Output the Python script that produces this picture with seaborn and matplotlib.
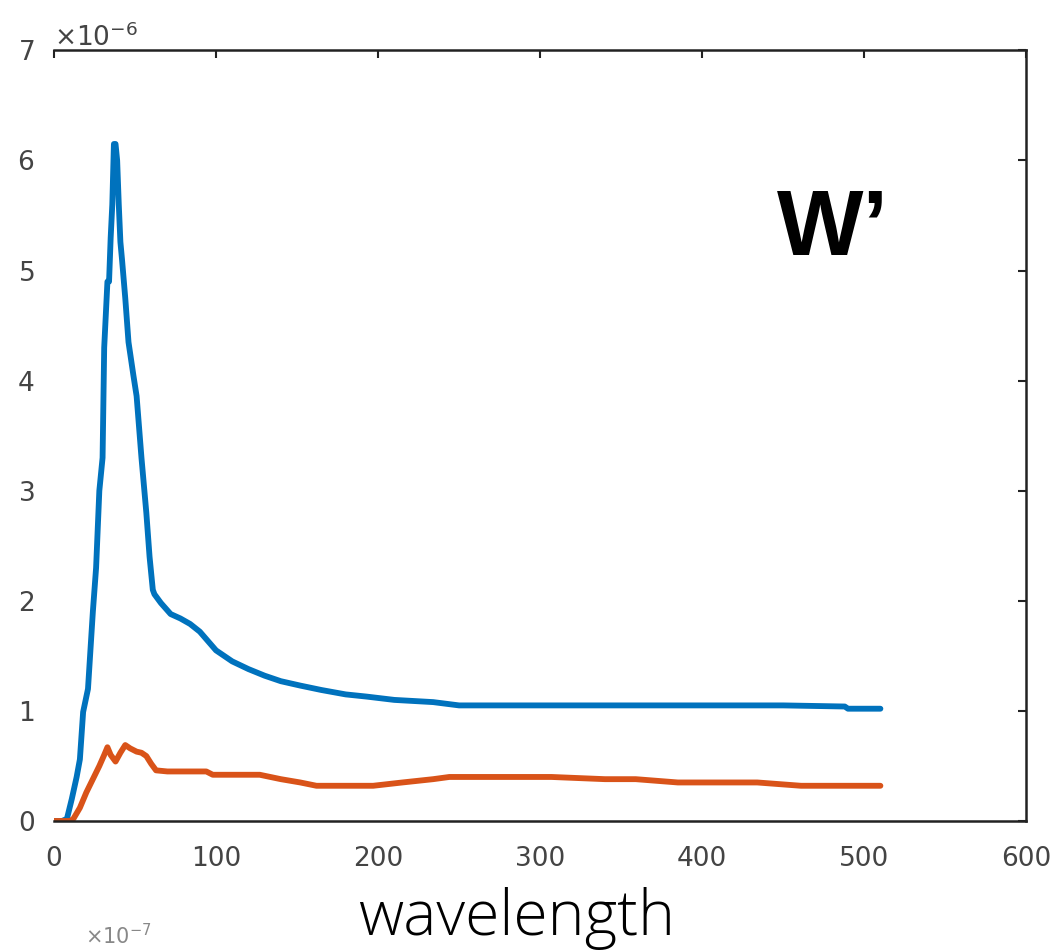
import numpy as np
import pandas as pd
import matplotlib
matplotlib.use("Agg")
import matplotlib.pyplot as plt
import seaborn as sns
from matplotlib.ticker import ScalarFormatter

# --------------------------------------------
# Data (y in units of 1e-6)
# --------------------------------------------
blue_x = [0, 5, 8, 11, 14, 16, 18, 21, 24, 26, 28, 30, 31, 33, 34, 35, 36, 37,
          38, 39, 40, 41, 42, 44, 46, 49, 51, 54, 57, 59, 61, 62, 66, 72, 78,
          84, 90, 100, 110, 120, 130, 140, 152, 165, 180, 193, 210, 234, 250,
          300, 350, 400, 450, 488, 490, 510]
blue_y = [0, 0, 0.02, 0.2, 0.4, 0.56, 0.99, 1.2, 1.9, 2.3, 3.0, 3.3, 4.3, 4.9,
          4.9, 5.3, 5.6, 6.15, 6.15, 6.0, 5.6, 5.26, 5.1, 4.75, 4.35, 4.05,
          3.86, 3.3, 2.8, 2.4, 2.1, 2.06, 1.98, 1.88, 1.84, 1.79, 1.72, 1.55,
          1.45, 1.38, 1.32, 1.27, 1.23, 1.19, 1.15, 1.13, 1.10, 1.08, 1.05,
          1.05, 1.05, 1.05, 1.05, 1.04, 1.02, 1.02]

orange_x = [0, 10, 12, 16, 20, 24, 28, 31, 33, 35, 38, 41, 44, 47, 51, 54, 57,
            60, 63, 70, 80, 94, 98, 110, 127, 140, 152, 162, 180, 197, 215,
            234, 244, 275, 307, 340, 359, 385, 434, 461, 510]
orange_y = [0, 0, 0.02, 0.12, 0.26, 0.38, 0.5, 0.6, 0.67, 0.6, 0.54, 0.62,
            0.69, 0.66, 0.63, 0.62, 0.59, 0.52, 0.46, 0.45, 0.45, 0.45, 0.42,
            0.42, 0.42, 0.38, 0.35, 0.32, 0.32, 0.32, 0.35, 0.38, 0.40, 0.40,
            0.40, 0.38, 0.38, 0.35, 0.35, 0.32, 0.32]

x_ticks = [0, 100, 200, 300, 400, 500, 600]
y_ticks = [0, 1, 2, 3, 4, 5, 6, 7]
unit = 1e-6

blue_df = pd.DataFrame({"x": blue_x, "y": np.array(blue_y) * unit})
orange_df = pd.DataFrame({"x": orange_x, "y": np.array(orange_y) * unit})

# --------------------------------------------
# Plot
# --------------------------------------------
sns.set_style("white")
plt.rcParams["font.family"] = ["DejaVu Sans"]

fig = plt.figure(figsize=(10.58, 9.51), dpi=100)
ax = fig.add_axes([0.051, 0.1367, 0.919, 0.8103])

sns.lineplot(data=blue_df, x="x", y="y", ax=ax, color="#0072BD", lw=4.2,
             sort=False, estimator=None)
sns.lineplot(data=orange_df, x="x", y="y", ax=ax, color="#D95319", lw=4.2,
             sort=False, estimator=None)

ax.set_xlim(0, 600)
ax.set_ylim(0, 7 * unit)
ax.set_xticks(x_ticks)
ax.set_yticks([v * unit for v in y_ticks])

fmt = ScalarFormatter(useMathText=True)
fmt.set_powerlimits((0, 0))
ax.yaxis.set_major_formatter(fmt)
ax.yaxis.get_offset_text().set_fontsize(19)
ax.yaxis.get_offset_text().set_color("#444444")

ax.set_xlabel("")
ax.set_ylabel("")
ax.tick_params(direction="in", top=True, right=True, length=6, width=1.5,
               labelsize=19, labelcolor="#444444", color="#222222")
ax.tick_params(axis="x", pad=18)
ax.tick_params(axis="y", pad=14)

for side in ["top", "right", "bottom"]:
    ax.spines[side].set_color("#222222")
    ax.spines[side].set_linewidth(1.8)
ax.spines["left"].set_visible(False)

fig.text(0.734, 0.732, "W\u2019", fontsize=66, fontweight="bold", color="black",
         family=["Liberation Sans", "DejaVu Sans"], ha="left", va="baseline")
fig.text(0.488, 0.0168, "wavelength", fontsize=45, fontweight="light",
         color="black", family=["Open Sans", "Roboto", "DejaVu Sans"],
         ha="center", va="baseline")
fig.text(0.08, 0.003, "\u00d710$^{-7}$", fontsize=15, color="#888888",
         ha="left", va="bottom")

plt.savefig("out.png", dpi=100)
plt.close()
